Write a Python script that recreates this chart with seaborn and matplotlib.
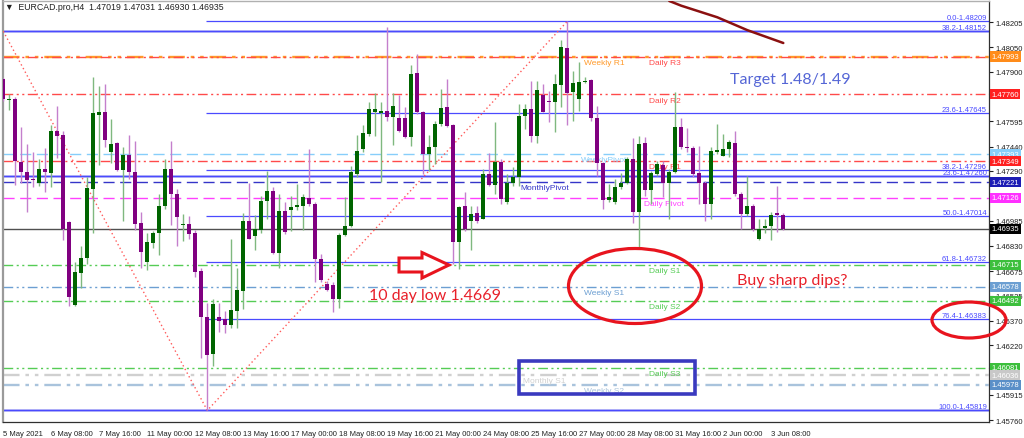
import numpy
import pandas
import seaborn
from matplotlib import pyplot
from matplotlib.patches import Ellipse, Polygon, Rectangle
from matplotlib.transforms import Affine2D, blended_transform_factory

# ---------------------------------------------------------------- data
# EURCAD H4 candles, 5 May 2021 .. 3 Jun 2021
open_prices = [
    1.47854, 1.47727, 1.47731, 1.47347, 1.47286, 1.47240, 1.47219, 1.47302, 1.47277, 1.47537,
    1.47510, 1.46978, 1.46466, 1.46663, 1.46755, 1.47179, 1.47635, 1.47650, 1.47404, 1.47461,
    1.47297, 1.47388, 1.47281, 1.46969, 1.46732, 1.46845, 1.46908, 1.47076, 1.47302, 1.47148,
    1.46959, 1.46963, 1.46906, 1.46673, 1.46390, 1.46165, 1.46390, 1.46380, 1.46343, 1.46431,
    1.46554, 1.46984, 1.46888, 1.46926, 1.47107, 1.47168, 1.46789, 1.47045, 1.47052, 1.47066,
    1.47076, 1.47123, 1.47090, 1.46752, 1.46595, 1.46591, 1.46503, 1.46896, 1.46949, 1.47271,
    1.47425, 1.47517, 1.47654, 1.47646, 1.47656, 1.47619, 1.47617, 1.47613, 1.47496, 1.47891,
    1.47650, 1.47394, 1.47435, 1.47578, 1.47680, 1.47572, 1.46855, 1.47072, 1.46984, 1.47031,
    1.46998, 1.47271, 1.47205, 1.47347, 1.47101, 1.47215, 1.47250, 1.47629, 1.47670, 1.47502,
    1.47756, 1.47721, 1.47711, 1.47817, 1.48045, 1.47772, 1.47735, 1.47838, 1.47848, 1.47615,
    1.47338, 1.47113, 1.47101, 1.47189, 1.47215, 1.47363, 1.47039, 1.47459, 1.47174, 1.47271,
    1.47328, 1.47219, 1.47281, 1.47562, 1.47439, 1.47429, 1.47277, 1.47215, 1.47086, 1.47408,
    1.47384, 1.47425, 1.47459, 1.47148, 1.47025, 1.47072, 1.46871, 1.46937, 1.46953, 1.47030,
    1.47019,
]
high_prices = [
    1.47858, 1.47762, 1.47747, 1.47558, 1.47455, 1.47408, 1.47363, 1.47429, 1.47572, 1.47686,
    1.47537, 1.46984, 1.46728, 1.46830, 1.47250, 1.47870, 1.47809, 1.47824, 1.47609, 1.47465,
    1.47435, 1.47510, 1.47473, 1.47041, 1.46912, 1.46922, 1.47148, 1.47363, 1.47471, 1.47179,
    1.47025, 1.47015, 1.46928, 1.46697, 1.46476, 1.46503, 1.46478, 1.46431, 1.46871, 1.46697,
    1.47031, 1.47219, 1.47019, 1.47138, 1.47291, 1.47189, 1.47148, 1.47101, 1.47138, 1.47209,
    1.47148, 1.47425, 1.47101, 1.46779, 1.46615, 1.46609, 1.46912, 1.47127, 1.47322, 1.47510,
    1.47572, 1.47711, 1.47768, 1.47711, 1.48172, 1.47768, 1.47756, 1.47680, 1.47940, 1.48008,
    1.47660, 1.47510, 1.47598, 1.47793, 1.47854, 1.47578, 1.47076, 1.47158, 1.47076, 1.47076,
    1.47302, 1.47400, 1.47588, 1.47363, 1.47271, 1.47312, 1.47701, 1.47701, 1.47844, 1.47844,
    1.47824, 1.47783, 1.47885, 1.48096, 1.48209, 1.47906, 1.47957, 1.47865, 1.47854, 1.47690,
    1.47343, 1.47209, 1.47240, 1.47277, 1.47373, 1.47490, 1.47502, 1.47496, 1.47291, 1.47353,
    1.47353, 1.47302, 1.47772, 1.47613, 1.47551, 1.47445, 1.47445, 1.47230, 1.47435, 1.47578,
    1.47517, 1.47482, 1.47537, 1.47158, 1.47261, 1.47086, 1.46994, 1.46998, 1.47035, 1.47199,
    1.47031,
]
low_prices = [
    1.47721, 1.47666, 1.47205, 1.47219, 1.47041, 1.47189, 1.47199, 1.47158, 1.47189, 1.47367,
    1.46867, 1.46462, 1.46458, 1.46574, 1.46718, 1.46908, 1.47328, 1.47435, 1.47338, 1.47291,
    1.46980, 1.47240, 1.46926, 1.46697, 1.46683, 1.46814, 1.46773, 1.47056, 1.46959, 1.46830,
    1.46861, 1.46871, 1.46636, 1.46140, 1.45819, 1.46093, 1.46302, 1.46294, 1.46323, 1.46323,
    1.46441, 1.46871, 1.46806, 1.46912, 1.46998, 1.46779, 1.46691, 1.46902, 1.46922, 1.47052,
    1.46928, 1.47076, 1.46605, 1.46605, 1.46554, 1.46425, 1.46446, 1.46892, 1.46943, 1.47250,
    1.47404, 1.47506, 1.47502, 1.47224, 1.47598, 1.47449, 1.47527, 1.47492, 1.47441, 1.47639,
    1.47271, 1.47291, 1.47332, 1.47564, 1.47558, 1.46718, 1.46687, 1.46922, 1.46806, 1.46969,
    1.46994, 1.47199, 1.47148, 1.47086, 1.47086, 1.47199, 1.47199, 1.47547, 1.47465, 1.47461,
    1.47650, 1.47588, 1.47531, 1.47680, 1.47572, 1.47598, 1.47660, 1.47830, 1.47598, 1.47260,
    1.47056, 1.47101, 1.47086, 1.47179, 1.47209, 1.46973, 1.46810, 1.47138, 1.47086, 1.47260,
    1.47127, 1.46994, 1.47277, 1.47425, 1.47404, 1.47250, 1.47086, 1.46984, 1.46994, 1.47394,
    1.47379, 1.47373, 1.47138, 1.46933, 1.47015, 1.46922, 1.46867, 1.46912, 1.46867, 1.46916,
    1.46930,
]
close_prices = [
    1.47731, 1.47733, 1.47353, 1.47286, 1.47236, 1.47234, 1.47302, 1.47281, 1.47537, 1.47506,
    1.46933, 1.46517, 1.46667, 1.46755, 1.47183, 1.47644, 1.47652, 1.47480, 1.47455, 1.47297,
    1.47388, 1.47281, 1.46967, 1.46795, 1.46851, 1.46912, 1.47076, 1.47302, 1.47148, 1.47010,
    1.46965, 1.46902, 1.46671, 1.46390, 1.46159, 1.46472, 1.46370, 1.46345, 1.46435, 1.46558,
    1.46984, 1.46875, 1.46933, 1.47107, 1.47168, 1.46789, 1.47045, 1.46916, 1.47066, 1.47080,
    1.47127, 1.47086, 1.46752, 1.46622, 1.46560, 1.46503, 1.46896, 1.46949, 1.47281, 1.47414,
    1.47523, 1.47670, 1.47670, 1.47656, 1.47619, 1.47686, 1.47537, 1.47496, 1.47885, 1.47650,
    1.47394, 1.47435, 1.47578, 1.47674, 1.47568, 1.46855, 1.47070, 1.46933, 1.47025, 1.46984,
    1.47271, 1.47205, 1.47347, 1.47117, 1.47219, 1.47250, 1.47629, 1.47670, 1.47502, 1.47787,
    1.47654, 1.47711, 1.47824, 1.48049, 1.47768, 1.47830, 1.47838, 1.47842, 1.47615, 1.47338,
    1.47113, 1.47127, 1.47189, 1.47219, 1.47363, 1.47039, 1.47455, 1.47174, 1.47277, 1.47332,
    1.47219, 1.47281, 1.47562, 1.47435, 1.47429, 1.47271, 1.47213, 1.47090, 1.47414, 1.47418,
    1.47425, 1.47465, 1.47148, 1.47025, 1.47072, 1.46933, 1.46933, 1.46953, 1.47019, 1.47019,
    1.46935,
]

time_tick_bars = [0, 8, 16, 24, 32, 40, 48, 56, 64, 72, 80, 88, 96, 104, 112, 120, 128]
time_tick_labels = [
    '5 May 2021', '6 May 08:00', '7 May 16:00', '11 May 00:00', '12 May 08:00',
    '13 May 16:00', '17 May 00:00', '18 May 08:00', '19 May 16:00', '21 May 00:00',
    '24 May 08:00', '25 May 16:00', '27 May 00:00', '28 May 08:00', '31 May 16:00',
    '2 Jun 00:00', '3 Jun 08:00',
]
price_ticks = [1.48205, 1.48050, 1.47900, 1.47595, 1.47440, 1.47290,
               1.46985, 1.46830, 1.46675, 1.46525, 1.46370, 1.46220, 1.45915, 1.45760]

# pivot levels
pivot_names = ['Weekly R1', 'Daily R3', 'Daily R2', 'WeeklyPivot', 'Daily R1', 'MonthlyPivot',
               'Daily Pivot', 'Daily S1', 'Weekly S1', 'Daily S2', 'Daily S3', 'Monthly S1',
               'Weekly S2']
pivot_prices = [1.47993, 1.47993, 1.47760, 1.47393, 1.47349, 1.47221,
                1.47126, 1.46715, 1.46578, 1.46492, 1.46081, 1.46036, 1.45978]
pivot_colors = ['#ff9a2a', '#ff4a4a', '#ff4a4a', '#87cefa', '#ff4a4a', '#3535c8',
                '#ff40ff', '#55cc55', '#6c9fd2', '#55cc55', '#55cc55', '#d0d0d0', '#a9c3dc']

# fibonacci retracement levels (label, price, first bar)
fib_labels = ['0.0-1.48209', '38.2-1.48152', '23.6-1.47645', '38.2-1.47296', '23.6-1.47260',
              '50.0-1.47014', '61.8-1.46732', '76.4-1.46383', '100.0-1.45819']
fib_prices = [1.48209, 1.48152, 1.47645, 1.47296, 1.47260, 1.47014, 1.46732, 1.46383, 1.45819]
fib_start_bars = [34, 0, 34, 34, 0, 34, 34, 34, 0]

# zigzag swing points and moving average tail
zigzag_bars = [0, 34, 94]
zigzag_prices = [1.48148, 1.45819, 1.48209]
ma_bars = [111, 113, 119, 124, 130]
ma_prices = [1.48334, 1.48305, 1.48234, 1.48155, 1.48076]

# price tags at the right edge
tag_prices = [1.47993, 1.47760, 1.47393, 1.47349, 1.47221, 1.47126, 1.46935,
              1.46715, 1.46578, 1.46492, 1.46081, 1.46036, 1.45978]
tag_colors = ['#ff8c1a', '#ff2020', '#87cefa', '#ff2020', '#1c1cb4', '#ff30ff', '#000000',
              '#3cbf3c', '#6c9fd2', '#3cbf3c', '#3cbf3c', '#c8c8c8', '#5a8fc8']

# ---------------------------------------------------------------- frame
candles = pandas.DataFrame({
    'open': open_prices, 'high': high_prices,
    'low': low_prices, 'close': close_prices,
})
candles['bar'] = numpy.arange(len(candles))
candles['bull'] = candles['close'] >= candles['open']

seaborn.set_style('white')
pyplot.rcParams['font.family'] = ['Liberation Sans', 'DejaVu Sans']

figure = pyplot.figure(figsize=(10.24, 4.39), dpi=100)
axes = figure.add_axes([3 / 1024, 16 / 439, 986 / 1024, 421 / 439])
axes.set_xlim(-0.05, -0.05 + 986 / 6)
axes.set_ylim(1.45748, 1.48334)

# pixel coordinates, origin at the top left of the picture
px = Affine2D().scale(1, -1).translate(0, 439).scale(0.01) + figure.dpi_scale_trans
right_edge = blended_transform_factory(axes.transAxes, axes.transData)

dash_dot_dot = (0, (7, 2.5, 1.5, 2.5, 1.5, 2.5))
dashed = (0, (8, 4))
pivot_styles = {'WeeklyPivot': dashed, 'MonthlyPivot': dashed, 'Daily Pivot': dashed}
label_bars = {'Daily': 110.2, 'Weekly': 100.2, 'Monthly': 90.2}

# ---------------------------------------------------------------- levels
for name, price, color in zip(pivot_names, pivot_prices, pivot_colors):
    style = pivot_styles.get(name, dash_dot_dot)
    width = 1.7 if name in ('Weekly R1', 'Monthly S1', 'Weekly S2') else 1.0
    axes.axhline(price, color=color, lw=width, ls=style, zorder=1)
    group = 'Monthly' if name.startswith('Monthly') else 'Weekly' if name.startswith('Weekly') else 'Daily'
    axes.annotate(name, (label_bars[group], price), xytext=(0, -1.5),
                  textcoords='offset points', ha='center', va='top',
                  fontsize=6.0, color=color, zorder=2)

axes.axhline(close_prices[-1], color='#505050', lw=1.0, zorder=1)

for label, price, start in zip(fib_labels, fib_prices, fib_start_bars):
    full = start == 0
    if full:
        axes.axhline(price, color='#b4b4f6', lw=2.0, zorder=1)
    axes.hlines(price, start - 0.3 if not full else -1, 170, color='#4a4aff', lw=0.9, zorder=1)
    axes.text(0.998, price, label, transform=right_edge, ha='right', va='bottom',
              fontsize=5.5, color='#4a4aff', zorder=2)

# ---------------------------------------------------------------- candles
seaborn.lineplot(x=zigzag_bars, y=zigzag_prices, ax=axes, color='#ff5a5a',
                 lw=1.0, linestyle=(0, (1, 2)), zorder=3)
seaborn.lineplot(x=ma_bars, y=ma_prices, ax=axes, color='#8b1010', lw=1.8, zorder=3)

for bull, body_color, wick_color in [(True, '#006400', '#7fb87f'), (False, '#800080', '#c47fcc')]:
    part = candles[candles['bull'] == bull]
    axes.vlines(part['bar'], part['low'], part['high'], color=wick_color, lw=1.0, zorder=4)
    body = (part['close'] - part['open']).abs().clip(lower=0.00007)
    bottom = part[['open', 'close']].min(axis=1)
    axes.bar(part['bar'], body, bottom=bottom, width=0.62, color=body_color,
             linewidth=0, zorder=5)

# ---------------------------------------------------------------- axes
axes.yaxis.tick_right()
axes.set_yticks(price_ticks)
axes.set_yticklabels([f'{p:.5f}' for p in price_ticks])
axes.set_xticks(time_tick_bars)
axes.set_xticklabels(time_tick_labels, ha='left')
axes.tick_params(axis='both', direction='out', length=3, width=0.8, pad=1.5,
                 labelsize=5.5, colors='#202020')
axes.tick_params(axis='x', pad=2.5)
for side in ['right', 'bottom']:
    axes.spines[side].set_color('#303030')
    axes.spines[side].set_linewidth(0.9)
axes.spines['left'].set_color('#9a9a9a')
axes.spines['left'].set_linewidth(1.6)
axes.spines['top'].set_color('#b0b0b0')
axes.spines['top'].set_linewidth(1.0)
axes.set_xlabel('')
axes.set_ylabel('')

for price, color in zip(tag_prices, tag_colors):
    axes.text(1.0025, price, f'{price:.5f}', transform=right_edge, ha='left', va='center',
              fontsize=5.5, color='white', clip_on=False, zorder=6,
              bbox=dict(boxstyle='square,pad=0.2', fc=color, ec='none'))

# ---------------------------------------------------------------- annotations
figure.text(5, 7, '\u25bc  EURCAD.pro,H4  1.47019 1.47031 1.46930 1.46935', transform=px,
            ha='left', va='center', fontsize=6.3, color='#202020')
figure.text(790, 80, 'Target 1.48/1.49', transform=px, ha='center', va='center',
            fontsize=11.5, color='#5566d6', family=['Lato', 'DejaVu Sans'])
figure.text(792, 281, 'Buy sharp dips?', transform=px, ha='center', va='center',
            fontsize=11.5, color='#e8202a', family=['Lato', 'DejaVu Sans'])
figure.text(435, 296, '10 day low 1.4669', transform=px, ha='center', va='center',
            fontsize=11.5, color='#e8202a', family=['Lato', 'DejaVu Sans'])

arrow = Polygon([(399, 259), (422, 259), (422, 253.5), (449, 266), (422, 279),
                 (422, 273), (399, 273)], closed=True, transform=px,
                fc='white', ec='#e8141e', lw=2.2)
figure.add_artist(arrow)
figure.add_artist(Ellipse((635, 287), 133, 75, transform=px, fill=False,
                          ec='#e8141e', lw=2.3))
figure.add_artist(Ellipse((969, 321), 74, 36, transform=px, fill=False,
                          ec='#e8141e', lw=2.3))
figure.add_artist(Rectangle((519, 362), 176, 33, transform=px, fill=False,
                            ec='#3a3abf', lw=2.6))

figure.savefig('out.png', dpi=100)
